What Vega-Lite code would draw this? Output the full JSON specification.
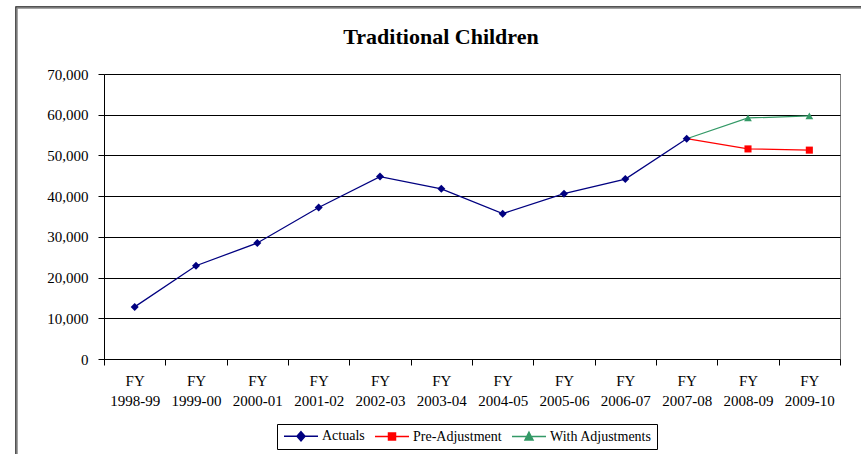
{
  "$schema": "https://vega.github.io/schema/vega-lite/v6.json",
  "width": 736,
  "height": 285,
  "autosize": "none",
  "padding": {"left": 104, "top": 74, "right": 21, "bottom": 95},
  "background": "white",
  "title": {
    "text": "Traditional Children",
    "font": "Liberation Serif",
    "fontSize": 22,
    "fontWeight": "bold",
    "color": "black",
    "anchor": "middle",
    "dx": -31,
    "offset": -43
  },
  "data": {
    "values": [
      {"year": "FY 1998-99", "series": "Actuals", "children": 12800},
      {"year": "FY 1999-00", "series": "Actuals", "children": 22900},
      {"year": "FY 2000-01", "series": "Actuals", "children": 28500},
      {"year": "FY 2001-02", "series": "Actuals", "children": 37200},
      {"year": "FY 2002-03", "series": "Actuals", "children": 44800},
      {"year": "FY 2003-04", "series": "Actuals", "children": 41800},
      {"year": "FY 2004-05", "series": "Actuals", "children": 35700},
      {"year": "FY 2005-06", "series": "Actuals", "children": 40600},
      {"year": "FY 2006-07", "series": "Actuals", "children": 44200},
      {"year": "FY 2007-08", "series": "Actuals", "children": 54100},
      {"year": "FY 2007-08", "series": "Pre-Adjustment", "children": 54100},
      {"year": "FY 2008-09", "series": "Pre-Adjustment", "children": 51600},
      {"year": "FY 2009-10", "series": "Pre-Adjustment", "children": 51300},
      {"year": "FY 2007-08", "series": "With Adjustments", "children": 54100},
      {"year": "FY 2008-09", "series": "With Adjustments", "children": 59200},
      {"year": "FY 2009-10", "series": "With Adjustments", "children": 59700}
    ]
  },
  "encoding": {
    "x": {
      "field": "year",
      "type": "ordinal",
      "sort": null,
      "bandPosition": 0.5,
      "scale": {"type": "band", "paddingInner": 0, "paddingOuter": 0},
      "title": null,
      "axis": {
        "tickBand": "extent",
        "tickSize": 6,
        "tickColor": "black",
        "domainColor": "black",
        "grid": false,
        "labelAngle": 0,
        "labelExpr": "split(datum.label, ' ')",
        "labelFont": "Liberation Serif",
        "labelFontSize": 15,
        "labelLineHeight": 20,
        "labelColor": "black",
        "labelPadding": 8
      }
    },
    "y": {
      "field": "children",
      "type": "quantitative",
      "scale": {"domain": [0, 70000], "nice": false},
      "title": null,
      "axis": {
        "values": [0, 10000, 20000, 30000, 40000, 50000, 60000, 70000],
        "format": ",.0f",
        "grid": true,
        "gridColor": "black",
        "gridWidth": 1,
        "gridOpacity": 1,
        "tickSize": 6,
        "tickColor": "black",
        "domainColor": "black",
        "labelFont": "Liberation Serif",
        "labelFontSize": 15,
        "labelColor": "black",
        "labelPadding": 10
      }
    },
    "color": {
      "field": "series",
      "type": "nominal",
      "scale": {
        "domain": ["Actuals", "Pre-Adjustment", "With Adjustments"],
        "range": ["#000080", "#FF0000", "#339966"]
      },
      "legend": {
        "orient": "none",
        "legendX": 173,
        "legendY": 350,
        "direction": "horizontal",
        "title": null,
        "strokeColor": "black",
        "fillColor": "white",
        "padding": 5,
        "labelFont": "Liberation Serif",
        "labelFontSize": 14,
        "labelColor": "black",
        "symbolSize": 100,
        "symbolStrokeWidth": 1.5,
        "labelOffset": 26,
        "columnPadding": 7,
        "encode": {
          "symbols": {
            "update": {
              "shape": {"signal": "datum.value === 'Actuals' ? 'M-1,0H5.8M2.4,-0.9L3.2,0L2.4,0.9L1.6,0Z' : datum.value === 'Pre-Adjustment' ? 'M-1,0H5.8M1.7,-0.7H3.1V0.7H1.7Z' : 'M-1,0H5.8M2.4,-0.85L3.2,0.7H1.6Z'"},
              "size": {"value": 100},
              "fill": {"signal": "datum.value === 'With Adjustments' ? '#008080' : scale('color', datum.value)"},
              "stroke": {"signal": "datum.value === 'With Adjustments' ? '#008080' : scale('color', datum.value)"},
              "opacity": {"value": 1},
              "fillOpacity": {"value": 1},
              "strokeOpacity": {"value": 1}
            }
          }
        }
      }
    }
  },
  "layer": [
    {
      "mark": {"type": "line", "strokeWidth": 1.25},
      "encoding": {
        "opacity": {
          "datum": "chart frame",
          "type": "nominal",
          "scale": {"range": [1]},
          "legend": {
            "orient": "none",
            "legendX": -88,
            "legendY": -67,
            "title": null,
            "padding": 0,
            "strokeColor": "#1a1a1a",
            "fillColor": "transparent",
            "symbolType": "square",
            "symbolSize": 1000000,
            "symbolOpacity": 0,
            "labelOpacity": 0,
            "labelFontSize": 1,
            "labelExpr": "''",
            "encode": {
              "legend": {"update": {"strokeWidth": {"value": 1.5}}}
            }
          }
        }
      }
    },
    {
      "transform": [{"filter": "datum.series === 'Actuals'"}],
      "mark": {"type": "point", "shape": "diamond", "size": 64, "filled": true, "opacity": 1}
    },
    {
      "transform": [{"filter": "datum.series === 'Pre-Adjustment' && datum.year !== 'FY 2007-08'"}],
      "mark": {"type": "point", "shape": "square", "size": 50, "filled": true, "opacity": 1}
    },
    {
      "transform": [{"filter": "datum.series === 'With Adjustments' && datum.year !== 'FY 2007-08'"}],
      "mark": {"type": "point", "shape": "triangle-up", "size": 60, "filled": true, "opacity": 1}
    }
  ],
  "config": {
    "view": {"stroke": "#808080", "strokeWidth": 1}
  }
}
